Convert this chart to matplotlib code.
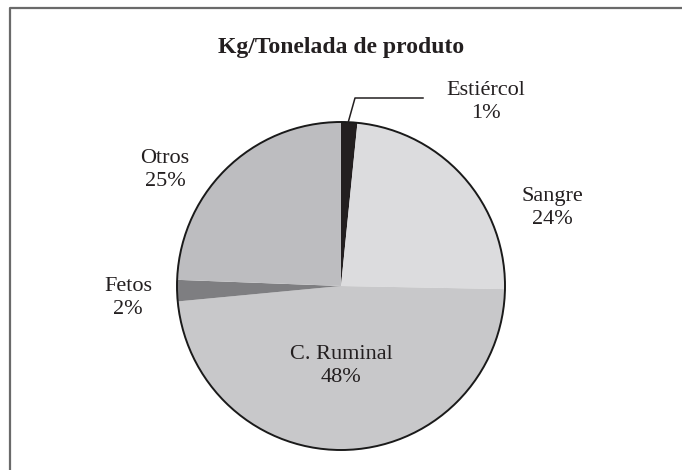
import matplotlib.pyplot as plt
from matplotlib.patches import Circle
from matplotlib.lines import Line2D

# shares (clockwise from 12 o'clock)
categories = ["Estiércol", "Sangre", "C. Ruminal", "Fetos", "Otros"]
shares = [1.6, 23.7, 48.2, 2.1, 24.4]
pct_labels = ["1%", "24%", "48%", "2%", "25%"]
colors = ["#231f20", "#dcdcde", "#c8c8ca", "#7e7e81", "#bdbdc0"]

W, H = 682, 470
fig = plt.figure(figsize=(W / 100, H / 100), dpi=100)
ax = fig.add_axes([0, 0, 1, 1])

cx, cy, r = 341, H - 286, 164
ax.pie(shares, colors=colors, startangle=90, counterclock=False,
       center=(cx, cy), radius=r, wedgeprops=dict(linewidth=0),
       frame=True)
ax.set_xlim(0, W)
ax.set_ylim(0, H)
ax.set_aspect("equal")
ax.axis("off")
ax.add_patch(Circle((cx, cy), r, fill=False, edgecolor="#1a1a1a", lw=1.4))

font = "Liberation Serif"
# label centres in pixel coords of the image (y from top)
label_pos = [(486, 102), (552, 208), (341, 366), (128, 298), (165, 170)]
for name, pct, (x, y) in zip(categories, pct_labels, label_pos):
    ax.text(x, H - y, f"{name}\n{pct}", ha="center", va="center",
            fontsize=16, family=font, color="#231f20", linespacing=1.22)

# leader line to the small slice
ax.add_line(Line2D([348, 355, 423], [H - 123, H - 98, H - 98],
                   color="#231f20", lw=1.1))

ax.text(cx, H - 48, "Kg/Tonelada de produto", ha="center", va="center",
        fontsize=17, fontweight="bold", family=font, color="#231f20")

# partial frame (crop of a boxed figure)
fig.add_artist(Line2D([10 / W, 10 / W, 1], [0, 1 - 8 / H, 1 - 8 / H],
                      transform=fig.transFigure, color="#6a6a6a", lw=1.6))

fig.savefig("out.png", dpi=100)
